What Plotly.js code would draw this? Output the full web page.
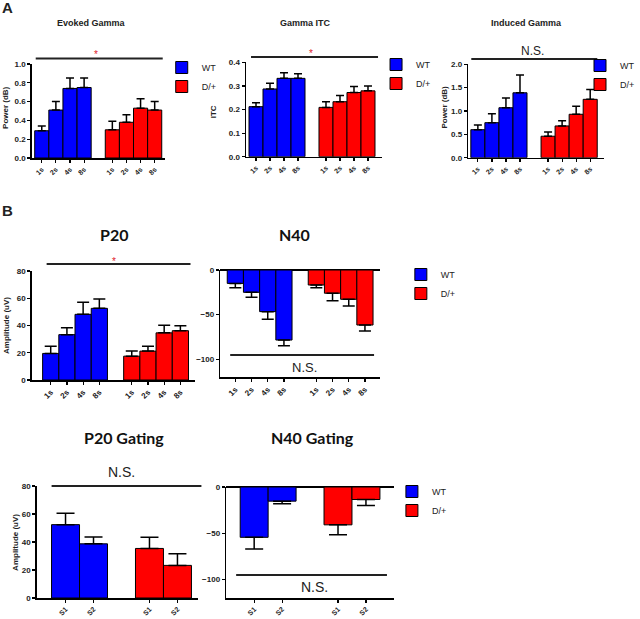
<!DOCTYPE html>
<html>
<head>
<meta charset="utf-8">
<script src="https://cdn.plot.ly/plotly-3.0.1.min.js"></script>
<style>
  html, body { margin: 0; padding: 0; background: #fff; }
  #chart { width: 640px; height: 619px; }
</style>
</head>
<body>
<div id="chart"></div>
<script>
const WT_COLOR = '#0000ff';
const DP_COLOR = '#ff0000';

const stimLabels = ['1s', '2s', '4s', '8s'];
const gateLabels = ['S1', 'S2'];

// A - gamma measures
const evokedWT = [0.29, 0.51, 0.74, 0.75];
const evokedWTErr = [0.05, 0.09, 0.11, 0.10];
const evokedDp = [0.30, 0.38, 0.53, 0.51];
const evokedDpErr = [0.09, 0.08, 0.10, 0.09];

const itcWT = [0.212, 0.287, 0.332, 0.332];
const itcWTErr = [0.017, 0.024, 0.024, 0.020];
const itcDp = [0.209, 0.233, 0.272, 0.279];
const itcDpErr = [0.024, 0.026, 0.025, 0.021];

const inducedWT = [0.60, 0.75, 1.07, 1.39];
const inducedWTErr = [0.10, 0.19, 0.21, 0.38];
const inducedDp = [0.46, 0.68, 0.93, 1.25];
const inducedDpErr = [0.09, 0.11, 0.17, 0.21];

// B - ERP amplitudes
const p20WT = [19.5, 33.3, 48.2, 52.6];
const p20WTErr = [5.3, 5.1, 8.8, 6.8];
const p20Dp = [17.5, 21.2, 34.6, 36.2];
const p20DpErr = [3.7, 3.6, 5.6, 3.7];

const n40WT = [-15.0, -25.0, -46.6, -78.4];
const n40WTErr = [4.9, 5.6, 8.6, 6.3];
const n40Dp = [-16.8, -26.0, -32.8, -61.6];
const n40DpErr = [3.0, 8.3, 7.5, 6.7];

const p20GateWT = [52.4, 38.7];
const p20GateWTErr = [8.2, 4.9];
const p20GateDp = [35.4, 23.3];
const p20GateDpErr = [8.0, 8.3];

const n40GateWT = [-54.4, -15.3];
const n40GateWTErr = [12.5, 2.8];
const n40GateDp = [-40.9, -13.5];
const n40GateDpErr = [10.7, 6.4];

const W = 640, H = 619;
const px = v => v / W;
const py = v => 1 - v / H;

const ARIAL = 'Arial, "Liberation Sans", sans-serif';

function bars(ax, labels, values, errs, name, color, offset, legendId, cap) {
  const neg = values[0] < 0;
  const zeros = values.map(() => 0);
  return {
    type: 'bar',
    x: labels.map((_, i) => i + offset),
    y: values,
    xaxis: 'x' + ax, yaxis: 'y' + ax,
    name: name,
    width: 1,
    marker: { color: color, line: { color: '#000', width: 1 } },
    error_y: {
      type: 'data', symmetric: false,
      array: neg ? zeros : errs,
      arrayminus: neg ? errs : zeros,
      color: '#000', thickness: 1.5, width: cap
    },
    showlegend: !!legendId,
    legend: legendId || 'legend',
    hoverinfo: 'skip'
  };
}

function panel(ax, labels, wt, wtErr, dp, dpErr, legendId, cap) {
  return [
    bars(ax, labels, wt, wtErr, 'WT', WT_COLOR, 0, legendId, cap),
    bars(ax, labels, dp, dpErr, 'D/+', DP_COLOR, labels.length + 1, legendId, cap)
  ];
}

const data = [].concat(
  panel('', stimLabels, evokedWT, evokedWTErr, evokedDp, evokedDpErr, 'legend', 4),
  panel('2', stimLabels, itcWT, itcWTErr, itcDp, itcDpErr, 'legend2', 4),
  panel('3', stimLabels, inducedWT, inducedWTErr, inducedDp, inducedDpErr, 'legend3', 4),
  panel('4', stimLabels, p20WT, p20WTErr, p20Dp, p20DpErr, null, 6),
  panel('5', stimLabels, n40WT, n40WTErr, n40Dp, n40DpErr, 'legend4', 6),
  panel('6', gateLabels, p20GateWT, p20GateWTErr, p20GateDp, p20GateDpErr, null, 9),
  panel('7', gateLabels, n40GateWT, n40GateWTErr, n40GateDp, n40GateDpErr, 'legend5', 9)
);

function xAxis(x0, x1, range, labels, anchor, size) {
  const vals = [], text = [];
  labels.forEach((l, i) => { vals.push(i); text.push(l); });
  labels.forEach((l, i) => { vals.push(i + labels.length + 1); text.push(l); });
  return {
    domain: [px(x0), px(x1)], range: range, anchor: anchor,
    tickvals: vals, ticktext: text, tickangle: -45,
    ticks: 'outside', ticklen: 3, tickwidth: 1.2, tickcolor: '#000',
    showline: true, linecolor: '#000', linewidth: 1.5,
    showgrid: false, zeroline: false, fixedrange: true,
    tickfont: { family: ARIAL, size: size, color: '#222', weight: 'bold' }
  };
}

function yAxis(top, bottom, range, dtick, anchor, fmt, size) {
  return {
    domain: [py(bottom), py(top)], range: range, dtick: dtick, anchor: anchor,
    tickformat: fmt,
    ticks: 'outside', ticklen: 3, tickwidth: 1.2, tickcolor: '#000',
    showline: true, linecolor: '#000', linewidth: 1.5,
    showgrid: false, zeroline: range[1] === 0, zerolinecolor: '#000', zerolinewidth: 1.5,
    fixedrange: true,
    tickfont: { family: ARIAL, size: size, color: '#222', weight: 'bold' }
  };
}

function legendAt(x, y) {
  return {
    x: px(x), y: py(y), xanchor: 'left', yanchor: 'top',
    bgcolor: 'rgba(0,0,0,0)', borderwidth: 0,
    font: { family: ARIAL, size: 9, color: '#222' }
  };
}

function sigLine(x0, x1, y) {
  return {
    type: 'line', xref: 'paper', yref: 'paper',
    x0: px(x0), x1: px(x1), y0: py(y), y1: py(y),
    line: { color: '#222', width: 1.8 }
  };
}

function note(text, x, y, size, opts) {
  return Object.assign({
    text: text, x: px(x), y: py(y), xref: 'paper', yref: 'paper',
    showarrow: false, xanchor: 'center', yanchor: 'middle',
    font: { family: ARIAL, size: size, color: '#222' }
  }, opts || {});
}

const boldArial = s => ({ family: ARIAL, size: s, color: '#222', weight: 'bold' });
const boldTitle = s => ({ family: 'Lato, "Open Sans", sans-serif', size: s, color: '#111', weight: 'bold' });

const layout = {
  width: W, height: H,
  margin: { l: 0, r: 0, t: 0, b: 0 },
  paper_bgcolor: '#fff', plot_bgcolor: 'rgba(0,0,0,0)',
  bargap: 0,
  showlegend: true,

  xaxis: xAxis(32, 166, [-0.71, 8.71], stimLabels, 'y', 7),
  yaxis: yAxis(64, 158, [0, 1.0], 0.2, 'x', '.1f', 8),
  xaxis2: xAxis(248, 385, [-0.71, 9.0], stimLabels, 'y2', 7),
  yaxis2: yAxis(62.3, 156.7, [0, 0.4], 0.1, 'x2', '.1f', 8),
  xaxis3: xAxis(472, 609, [-0.68, 9.0], stimLabels, 'y3', 7),
  yaxis3: yAxis(64.3, 157.7, [0, 2.0], 0.5, 'x3', '.1f', 8),

  xaxis4: xAxis(32, 197, [-1.17, 8.93], stimLabels, 'y4', 8),
  yaxis4: yAxis(271, 380, [0, 80], 20, 'x4', '', 8),
  xaxis5: xAxis(222, 383, [-0.93, 8.93], stimLabels, 'y5', 8),
  yaxis5: yAxis(270, 377.2, [-120, 0], 50, 'x5', '', 8),

  xaxis6: xAxis(37, 200, [-1.03, 4.75], gateLabels, 'y6', 7),
  yaxis6: yAxis(486, 598, [0, 80], 20, 'x6', '', 8),
  xaxis7: xAxis(228, 397, [-1.0, 5.0], gateLabels, 'y7', 7),
  yaxis7: yAxis(487, 598, [-120, 0], 50, 'x7', '', 8),

  legend: legendAt(163, 53),
  legend2: legendAt(379, 50),
  legend3: legendAt(585, 51),
  legend4: legendAt(404, 260),
  legend5: legendAt(395, 477),

  shapes: [
    sigLine(36, 164, 58.5),
    sigLine(253, 381, 57),
    sigLine(475, 602, 59),
    sigLine(47, 192, 264),
    sigLine(232, 377, 355),
    sigLine(52, 203, 486),
    sigLine(238, 390, 575)
  ],

  annotations: [
    note('A', 8, 8, 15, { font: boldArial(15) }),
    note('B', 8, 211, 15, { font: boldArial(15) }),

    note('Evoked Gamma', 92, 23, 9, { font: boldArial(9) }),
    note('Gamma ITC', 308, 23, 9, { font: boldArial(9) }),
    note('Induced Gamma', 531, 23, 9, { font: boldArial(9) }),
    note('P20', 115, 234, 16, { font: boldTitle(16) }),
    note('N40', 297, 234, 16, { font: boldTitle(16) }),
    note('P20 Gating', 125, 437, 16, { font: boldTitle(16) }),
    note('N40 Gating', 315, 437, 16, { font: boldTitle(16) }),

    note('Power (dB)', 6, 107, 8, { font: boldArial(8), textangle: -90 }),
    note('ITC', 215, 112, 8, { font: boldArial(8), textangle: -90 }),
    note('Power (dB)', 448, 107, 8, { font: boldArial(8), textangle: -90 }),
    note('Amplitude (uV)', 6, 325, 8, { font: boldArial(8), textangle: -90 }),
    note('Amplitude (uV)', 15, 542, 8, { font: boldArial(8), textangle: -90 }),

    note('*', 97, 55, 10, { font: { family: ARIAL, size: 10, color: '#e0202a' } }),
    note('*', 313, 53, 10, { font: { family: ARIAL, size: 10, color: '#e0202a' } }),
    note('N.S.', 537, 51, 12),
    note('*', 115, 261, 10, { font: { family: ARIAL, size: 10, color: '#e0202a' } }),
    note('N.S.', 307, 367, 13),
    note('N.S.', 122, 472, 14),
    note('N.S.', 317, 587, 14)
  ]
};

Plotly.newPlot('chart', data, layout, { staticPlot: true, responsive: false });
</script>
</body>
</html>
